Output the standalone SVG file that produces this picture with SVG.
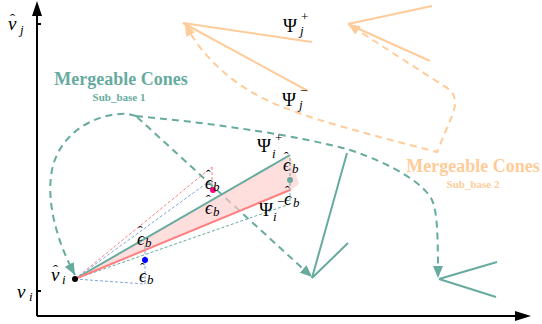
<svg xmlns="http://www.w3.org/2000/svg" width="542" height="324" viewBox="0 0 542 324">
<style>
.ax{stroke:#000;stroke-width:2;fill:none}
.gs{stroke:#67AB9F;stroke-width:2;fill:none}
.os{stroke:#FFCC99;stroke-width:2;fill:none}
.gd{stroke:#67AB9F;stroke-width:2;fill:none;stroke-dasharray:7 5}
.od{stroke:#FFCC99;stroke-width:2;fill:none;stroke-dasharray:7 5}
.dot{stroke-width:1;fill:none;stroke-dasharray:3 2}
.m{font-style:italic;fill:#000}
.u{font-style:normal}
.t{font-weight:bold;text-anchor:middle}
</style>
<defs>
<marker id="ga" viewBox="0 0 12 10" refX="12" refY="5" markerWidth="12" markerHeight="10" markerUnits="userSpaceOnUse" orient="auto"><path d="M0,0 L12,5 L0,10 z" fill="#67AB9F"/></marker>
<marker id="oa" viewBox="0 0 12 10" refX="12" refY="5" markerWidth="12" markerHeight="10" markerUnits="userSpaceOnUse" orient="auto-start-reverse"><path d="M0,0 L12,5 L0,10 z" fill="#FFCC99"/></marker>
</defs>
<g id="axes">
<line class="ax" x1="37" y1="316" x2="37" y2="14"/>
<polygon points="37,1 32,16 42,16" fill="#000"/>
<line class="ax" x1="37" y1="316" x2="518" y2="316"/>
<polygon points="531,316 515,311 515,321" fill="#000"/>
<line class="ax" x1="37" y1="24" x2="41" y2="24"/>
<line class="ax" x1="37" y1="291" x2="41" y2="291"/>
<text class="m" font-family="'Liberation Serif', 'DejaVu Serif', serif" x="8" y="30" font-size="19">v<tspan class="u" x="10" y="24" font-size="15">ˆ</tspan><tspan x="20" y="34" font-size="13">j</tspan></text>
<text class="m" font-family="'Liberation Serif', 'DejaVu Serif', serif" x="17" y="298" font-size="19">v<tspan x="29" y="301" font-size="13">i</tspan></text>
</g>
<g id="connectors">
<path class="gd" d="M136,116 L128,114 C100,112 60,130 52,170 C46,200 56,240 75,275" marker-end="url(#ga)"/>
<path class="gd" d="M136,116 C220,124 300,136 350,150 C395,165 425,185 432,200 C437,212 438,230 438,278" marker-end="url(#ga)"/>
<path class="gd" d="M137,117 L312,277" marker-end="url(#ga)"/>
<path class="od" d="M185,24 C205,62 240,90 280,106 C310,118 340,127 437,152 L452,116 C458,100 455,92 444,86 L348,24" marker-start="url(#oa)" marker-end="url(#oa)"/>
</g>
<g id="cone-j">
<line class="os" x1="183" y1="23" x2="312" y2="42"/>
<line class="os" x1="183" y1="23" x2="308" y2="91"/>
<text font-family="'Liberation Serif', 'DejaVu Serif', serif" x="283" y="32" font-size="19">Ψ<tspan x="301" y="21" font-size="13">+</tspan><tspan class="m" x="300" y="35" font-size="13">j</tspan></text>
<text font-family="'Liberation Serif', 'DejaVu Serif', serif" x="282" y="106" font-size="19">Ψ<tspan x="300" y="95" font-size="13">−</tspan><tspan class="m" x="299" y="109" font-size="13">j</tspan></text>
</g>
<g id="cone-j2">
<line class="os" x1="348" y1="24" x2="432" y2="6"/>
<line class="os" x1="348" y1="24" x2="430" y2="61"/>
</g>
<g id="cone-b1">
<line class="gs" x1="312" y1="278" x2="347" y2="153"/>
<line class="gs" x1="312" y1="278" x2="348" y2="243"/>
</g>
<g id="cone-b2">
<line class="gs" x1="439" y1="279" x2="497" y2="262"/>
<line class="gs" x1="439" y1="279" x2="496" y2="297"/>
</g>
<g id="cone-i">
<polygon points="75,279 290,155 299,184 290,191" fill="#FFCCCC" fill-opacity="0.65"/>
<line class="dot" stroke="#FF8080" x1="75" y1="279" x2="212" y2="167"/>
<line class="dot" stroke="#FF8080" x1="212" y1="167" x2="212" y2="191"/>
<line class="dot" stroke="#7EA6E0" x1="75" y1="279" x2="211" y2="180"/>
<line class="dot" stroke="#7EA6E0" x1="75" y1="279" x2="145" y2="284"/>
<line class="dot" stroke="#7EA6E0" x1="145" y1="284" x2="145" y2="244"/>
<line class="dot" stroke="#67AB9F" x1="75" y1="279" x2="290" y2="204"/>
<line class="dot" stroke="#67AB9F" x1="290" y1="158" x2="290" y2="204"/>
<line class="gs" x1="75" y1="279" x2="290" y2="155"/>
<line stroke="#FF8080" stroke-width="2" x1="75" y1="279" x2="290" y2="190"/>
<circle cx="75" cy="279" r="3" fill="#000"/>
<circle cx="145" cy="260" r="3" fill="#0000FF"/>
<circle cx="213" cy="190" r="3" fill="#FF0080"/>
<circle cx="290" cy="180" r="3" fill="#67AB9F"/>
<g font-family="'Liberation Serif', 'DejaVu Serif', serif">
<text class="m" x="51" y="281" font-size="19">v<tspan class="u" x="53" y="275" font-size="15">ˆ</tspan><tspan x="62" y="284" font-size="13">i</tspan></text>
<text class="m" x="137" y="245" font-size="18">ϵ<tspan class="u" x="138" y="236" font-size="14">ˆ</tspan><tspan x="145" y="247" font-size="13">b</tspan></text>
<text class="m" x="139" y="282" font-size="18">ϵ<tspan class="u" x="140" y="273" font-size="14">ˆ</tspan><tspan x="147" y="284" font-size="13">b</tspan></text>
<text class="m" x="205" y="189" font-size="18">ϵ<tspan class="u" x="206" y="180" font-size="14">ˆ</tspan><tspan x="213" y="191" font-size="13">b</tspan></text>
<text class="m" x="205" y="214" font-size="18">ϵ<tspan class="u" x="206" y="205" font-size="14">ˆ</tspan><tspan x="213" y="216" font-size="13">b</tspan></text>
<text class="m" x="283" y="171" font-size="18">ϵ<tspan class="u" x="284" y="162" font-size="14">ˆ</tspan><tspan x="292" y="173" font-size="13">b</tspan></text>
<text class="m" x="284" y="205" font-size="18">ϵ<tspan class="u" x="285" y="196" font-size="14">ˆ</tspan><tspan x="293" y="207" font-size="13">b</tspan></text>
<text x="257" y="152" font-size="19">Ψ<tspan x="275" y="142" font-size="13">+</tspan><tspan class="m" x="272" y="158" font-size="13">i</tspan></text>
<text x="259" y="216" font-size="19">Ψ<tspan x="277" y="206" font-size="13">−</tspan><tspan class="m" x="273" y="221" font-size="13">i</tspan></text>
</g>
</g>
<g id="label-sub1" font-family="'Liberation Serif', serif" fill="#67AB9F">
<text class="t" x="121" y="85" font-size="18">Mergeable Cones</text>
<text class="t" x="119" y="101" font-size="11">Sub_base 1</text>
</g>
<g id="label-sub2" font-family="'Liberation Serif', serif" fill="#FFCC99">
<text class="t" x="473" y="172" font-size="18">Mergeable Cones</text>
<text class="t" x="473" y="188" font-size="11">Sub_base 2</text>
</g>
</svg>
